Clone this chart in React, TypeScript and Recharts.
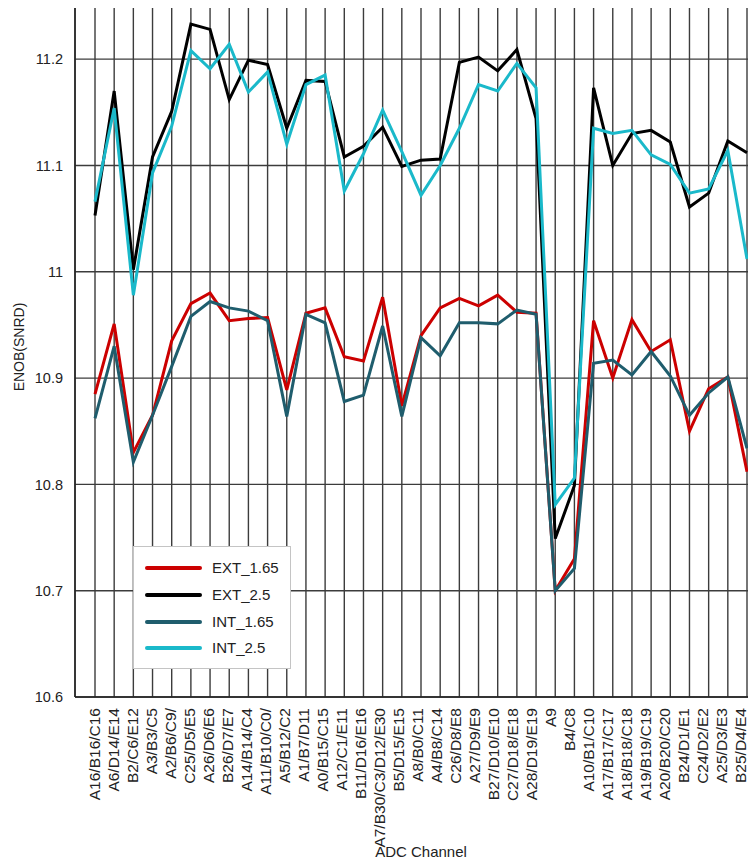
import React from 'react';
import { LineChart, Line, XAxis, YAxis, CartesianGrid, ReferenceLine } from 'recharts';

const channels = [
  'A16/B16/C16', 'A6/D14/E14', 'B2/C6/E12', 'A3/B3/C5', 'A2/B6/C9/', 'C25/D5/E5', 'A26/D6/E6',
  'B26/D7/E7', 'A14/B14/C4', 'A11/B10/C0/', 'A5/B12/C2', 'A1/B7/D11', 'A0/B15/C15', 'A12/C1/E11',
  'B11/D16/E16', 'A7/B30/C3/D12/E30', 'B5/D15/E15', 'A8/B0/C11', 'A4/B8/C14', 'C26/D8/E8',
  'A27/D9/E9', 'B27/D10/E10', 'C27/D18/E18', 'A28/D19/E19', 'A9', 'B4/C8', 'A10/B1/C10',
  'A17/B17/C17', 'A18/B18/C18', 'A19/B19/C19', 'A20/B20/C20', 'B24/D1/E1', 'C24/D2/E2',
  'A25/D3/E3', 'B25/D4/E4',
];

const ext165 = [
  10.885, 10.951, 10.830, 10.865, 10.935, 10.970, 10.980, 10.954, 10.956, 10.957, 10.889, 10.961,
  10.966, 10.920, 10.916, 10.976, 10.874, 10.940, 10.966, 10.975, 10.968, 10.978, 10.962, 10.961,
  10.700, 10.730, 10.954, 10.900, 10.955, 10.925, 10.936, 10.850, 10.890, 10.901, 10.812,
];

const ext25 = [
  11.053, 11.170, 11.002, 11.108, 11.151, 11.233, 11.228, 11.162, 11.199, 11.195, 11.135, 11.180,
  11.179, 11.108, 11.118, 11.136, 11.099, 11.105, 11.106, 11.197, 11.202, 11.189, 11.209, 11.144,
  10.749, 10.799, 11.173, 11.100, 11.130, 11.133, 11.122, 11.061, 11.074, 11.123, 11.112,
];

const int165 = [
  10.862, 10.930, 10.821, 10.865, 10.911, 10.958, 10.972, 10.966, 10.963, 10.954, 10.864, 10.960,
  10.952, 10.878, 10.884, 10.949, 10.864, 10.938, 10.921, 10.952, 10.952, 10.951, 10.964, 10.960,
  10.700, 10.721, 10.914, 10.917, 10.903, 10.925, 10.902, 10.865, 10.886, 10.901, 10.834,
];

const int25 = [
  11.066, 11.154, 10.978, 11.093, 11.137, 11.208, 11.191, 11.214, 11.169, 11.188, 11.120, 11.176,
  11.185, 11.076, 11.111, 11.152, 11.113, 11.072, 11.100, 11.135, 11.176, 11.170, 11.196, 11.173,
  10.781, 10.806, 11.135, 11.130, 11.133, 11.110, 11.101, 11.074, 11.078, 11.114, 11.012,
];

const yTicks = [10.6, 10.7, 10.8, 10.9, 11, 11.1, 11.2];
const yDomain = [10.6, 11.25];

const series = [
  { key: 'ext165', name: 'EXT_1.65', values: ext165, color: '#cc0000' },
  { key: 'ext25', name: 'EXT_2.5', values: ext25, color: '#000000' },
  { key: 'int165', name: 'INT_1.65', values: int165, color: '#1f5d6d' },
  { key: 'int25', name: 'INT_2.5', values: int25, color: '#1ab9ca' },
];

const data = channels.map((c, i) => {
  const row: any = { channel: c };
  series.forEach((s) => {
    row[s.key] = s.values[i];
  });
  return row;
});

const FONT = '"Liberation Sans", Arial, sans-serif';

const XTick = (props: any) => {
  const { x, y, payload } = props;
  // labels are spaced slightly tighter than the gridlines in the reference
  const tx = x - 1 - (x - 95) * 0.008;
  const ty = y + 11;
  return (
    <text
      x={tx}
      y={ty}
      transform={`rotate(-90, ${tx}, ${ty})`}
      textAnchor="end"
      dominantBaseline="central"
      fontSize={15.5}
      fill="#222"
      fontFamily={FONT}
    >
      {payload.value}
    </text>
  );
};

const YLabel = () => (
  <text
    x={19}
    y={347}
    transform="rotate(-90, 19, 347)"
    textAnchor="middle"
    dominantBaseline="central"
    fontSize={14}
    fill="#222"
    fontFamily={FONT}
  >
    ENOB(SNRD)
  </text>
);

export default function App() {
  return (
    <div style={{ margin: '-8px', width: 756, height: 865, overflow: 'hidden', position: 'relative', fontFamily: FONT }}>
      <LineChart width={770} height={865} data={data} margin={{ top: 6, right: 3, left: 0, bottom: 0 }}>
        <CartesianGrid stroke="#3c3c3c" strokeWidth={1.4} />
        <XAxis
          dataKey="channel"
          interval={0}
          padding={{ left: 20, right: 20 }}
          height={168}
          tickSize={0}
          tickMargin={0}
          tickLine={false}
          tick={<XTick />}
          stroke="#222"
          strokeWidth={1.5}
          label={{ value: 'ADC Channel', position: 'insideBottom', offset: 8, fontSize: 15, fill: '#222' }}
        />
        <YAxis
          domain={yDomain}
          ticks={yTicks}
          width={75}
          tickSize={0}
          tickMargin={12}
          tickLine={false}
          stroke="#222"
          strokeWidth={1.5}
          tick={{ fontSize: 14.5, fill: '#222', fontFamily: FONT }}
          tickFormatter={(v: number) => String(v)}
          label={{ content: () => <YLabel /> }}
        />
        <ReferenceLine y={11.25} stroke="#222" strokeWidth={1.5} />
        {series.map((s) => (
          <Line
            key={s.key}
            dataKey={s.key}
            name={s.name}
            stroke={s.color}
            strokeWidth={3}
            dot={false}
            type="linear"
            isAnimationActive={false}
          />
        ))}
      </LineChart>
      <div
        style={{
          position: 'absolute',
          left: 133,
          top: 546,
          width: 158,
          height: 123,
          boxSizing: 'border-box',
          border: '1px solid #c4c4c4',
          background: '#fff',
          paddingTop: 8,
        }}
      >
        {series.map((s) => (
          <div key={s.key} style={{ display: 'flex', alignItems: 'center', height: 26.7 }}>
            <svg width={78} height={10} style={{ display: 'block' }}>
              <line x1={13} y1={5} x2={66} y2={5} stroke={s.color} strokeWidth={4} strokeLinecap="round" />
            </svg>
            <span style={{ fontSize: 15, color: '#222', lineHeight: '16px' }}>{s.name}</span>
          </div>
        ))}
      </div>
    </div>
  );
}
